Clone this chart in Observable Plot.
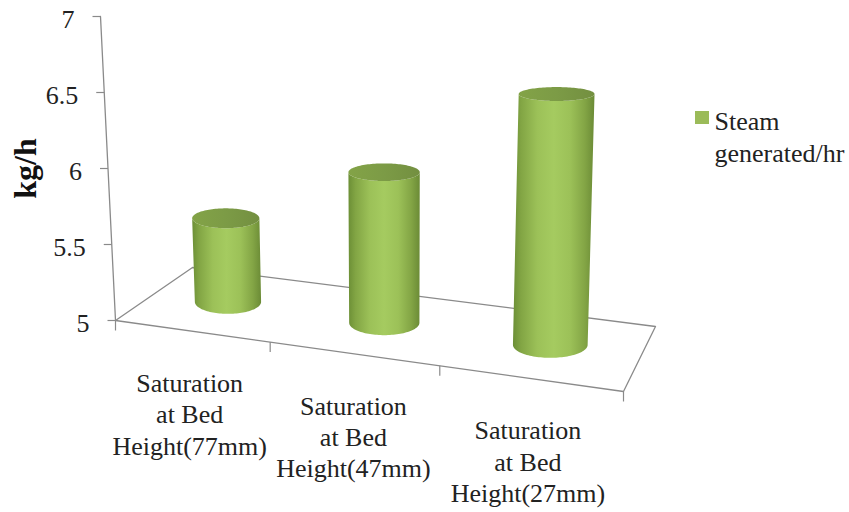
<!DOCTYPE html>
<html>
<head>
<meta charset="utf-8">
<style>
  html, body { margin: 0; padding: 0; background: #fff; }
  svg { display: block; }
</style>
<script src="https://cdn.jsdelivr.net/npm/d3@7"></script>
<script src="https://cdn.jsdelivr.net/npm/@observablehq/plot@0.6"></script>
</head>
<body>
<script>
// Steam generated per hour at three bed heights
const categories = [
  "Saturation\nat Bed\nHeight(77mm)",
  "Saturation\nat Bed\nHeight(47mm)",
  "Saturation\nat Bed\nHeight(27mm)"
];
const steamValues = [5.5, 5.9, 6.5];
const yTicks = [5, 5.5, 6, 6.5, 7];
const yTickLabels = ["5", "5.5", "6", "6.5", "7"];
const seriesName = "Steam\ngenerated/hr";
const yLabel = "kg/h";

const WIDTH = 849, HEIGHT = 512;
const SERIF = "'Liberation Serif', 'Times New Roman', serif";
const AXIS_GREY = "#8a8a8a";

// The value scale runs along the back wall; floor and cylinder geometry is expressed in its units.
const Y_BASE = 320, Y_UNIT = 152;
const yFromPixel = (py) => 5 + (Y_BASE - py) / Y_UNIT;
const pixelFromY = (v) => Y_BASE - (v - 5) * Y_UNIT;

// Perspective floor: maps (u along categories, w into depth) onto the drawing plane.
const floorCorners = [[115, 320], [623, 391], [655, 326], [192, 267]];
const floor = (() => {
  const [[x0, y0], [x1, y1], [x2, y2], [x3, y3]] = floorCorners;
  const dx1 = x1 - x2, dx2 = x3 - x2, sx = x0 - x1 + x2 - x3;
  const dy1 = y1 - y2, dy2 = y3 - y2, sy = y0 - y1 + y2 - y3;
  const det = dx1 * dy2 - dx2 * dy1;
  const g = (sx * dy2 - dx2 * sy) / det;
  const h = (dx1 * sy - sx * dy1) / det;
  const a = x1 - x0 + g * x1, b = x3 - x0 + h * x3;
  const d = y1 - y0 + g * y1, e = y3 - y0 + h * y3;
  return (u, w) => {
    const s = u / categories.length;
    const q = g * s + h * w + 1;
    return [(a * s + b * w + x0) / q, (d * s + e * w + y0) / q];
  };
})();

// Wall position for a value on the y axis
const wallX = (v) => 115 - (v - 5) * 7.5;

const wall = yTicks.map((v) => ({ x: wallX(v), y: v }));
const floorOutline = [[0, 0], [3, 0], [3, 1], [0, 1], [0, 0]].map(([u, w]) => {
  const [x, py] = floor(u, w);
  return { x, y: yFromPixel(py) };
});
const yTickRows = yTicks.map((v, i) => ({ v, label: yTickLabels[i], x: wallX(v) }));
const categoryEdges = [0, 0.975, 1.98, 3];
const xTickRows = categoryEdges.map((u) => {
  const [x, py] = floor(u, 0);
  return { x, y1: yFromPixel(py), y2: yFromPixel(py + 10) };
});
const labelRows = categories.map((label, i) => {
  const [x, py] = floor(i + 0.5, 0);
  return { label, x: x - 4, y: yFromPixel(py + 82) };
});

// Cylinder outline derived from each value
const HEIGHT_GAIN = 1.1;
const LEAN = 1.6e-4, VANISH_X = 393;
const angles = d3.range(0, 61).map((k) => (k / 60) * Math.PI);
const flatness = (py) => 4.7 + 0.024 * py;

function cylinder(value, i) {
  const [bx, bpy] = floor(i + 0.485, 0.5);
  const [cellLeft] = floor(i, 0.5);
  const [cellRight] = floor(i + 1, 0.5);
  const rx = (cellRight - cellLeft) * 0.218;
  const topY = yFromPixel(bpy) + (value - 5) * HEIGHT_GAIN;
  const tpy = pixelFromY(topY);
  const tx = bx + (bx - VANISH_X) * LEAN * (bpy - tpy);
  const rxTop = rx * 1.015;
  const ryB = flatness(bpy), ryT = flatness(tpy);
  const body = angles.map((t) => ({
    x1: bx - rx * Math.cos(t),
    y1: yFromPixel(bpy + ryB * Math.sin(t)),
    x2: tx - rxTop * Math.cos(t),
    y2: yFromPixel(tpy + ryT * Math.sin(t))
  }));
  const cap = angles.map((t) => ({
    x: tx - rxTop * Math.cos(t),
    y1: yFromPixel(tpy + ryT * Math.sin(t)),
    y2: yFromPixel(tpy - ryT * Math.sin(t))
  }));
  return { body, cap };
}
const cylinders = steamValues.map(cylinder);

// Horizontal shading for the cylinder walls and caps
function gradients() {
  const NS = "http://www.w3.org/2000/svg";
  const defs = document.createElementNS(NS, "defs");
  const add = (id, stops) => {
    const grad = document.createElementNS(NS, "linearGradient");
    grad.setAttribute("id", id);
    for (const [offset, color] of stops) {
      const s = document.createElementNS(NS, "stop");
      s.setAttribute("offset", offset);
      s.setAttribute("stop-color", color);
      grad.appendChild(s);
    }
    defs.appendChild(grad);
  };
  add("cylinderBody", [
    [0, "#6c8f36"], [0.1, "#82a544"], [0.3, "#9cc158"], [0.5, "#a5cb60"],
    [0.7, "#9cc158"], [0.88, "#83a545"], [1, "#6b8b36"]
  ]);
  add("cylinderCap", [[0, "#83a347"], [0.5, "#7c9b46"], [1, "#738f40"]]);
  return defs;
}

const chart = Plot.plot({
  width: WIDTH,
  height: HEIGHT,
  margin: 0,
  style: { background: "#fff", fontFamily: SERIF },
  x: { domain: [0, WIDTH], range: [0, WIDTH], axis: null },
  y: { domain: [5, 7], range: [Y_BASE, Y_BASE - 2 * Y_UNIT], axis: null },
  marks: [
    gradients,
    // Wall edge, y ticks and floor frame
    Plot.line(wall, { x: "x", y: "y", stroke: AXIS_GREY, strokeWidth: 1.3 }),
    Plot.link(yTickRows, {
      x1: (d) => d.x - 8, x2: "x", y1: "v", y2: "v",
      stroke: AXIS_GREY, strokeWidth: 1.2
    }),
    Plot.line(floorOutline, { x: "x", y: "y", stroke: AXIS_GREY, strokeWidth: 1.3 }),
    Plot.link(xTickRows, {
      x1: "x", x2: "x", y1: "y1", y2: "y2",
      stroke: AXIS_GREY, strokeWidth: 1.2
    }),
    // Axis text
    Plot.text(yTickRows, {
      x: (d) => d.x - 26, y: "v", text: "label", dy: 3,
      textAnchor: "end", fontSize: 26, fill: "#222"
    }),
    Plot.text(labelRows, {
      x: "x", y: "y", text: "label",
      textAnchor: "middle", lineAnchor: "middle", lineHeight: 1.2,
      fontSize: 26, fill: "#222"
    }),
    Plot.text([yLabel], {
      x: () => 25, y: () => yFromPixel(168), text: (d) => d,
      rotate: -90, fontSize: 32, fontWeight: "bold", fill: "#111"
    }),
    // Cylinders
    ...cylinders.flatMap(({ body, cap }) => [
      Plot.area(body, {
        x1: "x1", y1: "y1", x2: "x2", y2: "y2",
        fill: "url(#cylinderBody)", curve: "linear"
      }),
      Plot.area(cap, {
        x1: "x", x2: "x", y1: "y1", y2: "y2",
        fill: "url(#cylinderCap)", curve: "linear"
      })
    ]),
    // Legend
    Plot.rect([seriesName], {
      x1: () => 695, x2: () => 709,
      y1: () => yFromPixel(111), y2: () => yFromPixel(124),
      fill: "#9bbb59"
    }),
    Plot.text([seriesName], {
      x: () => 714, y: () => yFromPixel(135), text: (d) => d,
      textAnchor: "start", lineAnchor: "middle", lineHeight: 1.22,
      fontSize: 26, fill: "#222"
    })
  ]
});
document.body.appendChild(chart);
</script>
</body>
</html>
